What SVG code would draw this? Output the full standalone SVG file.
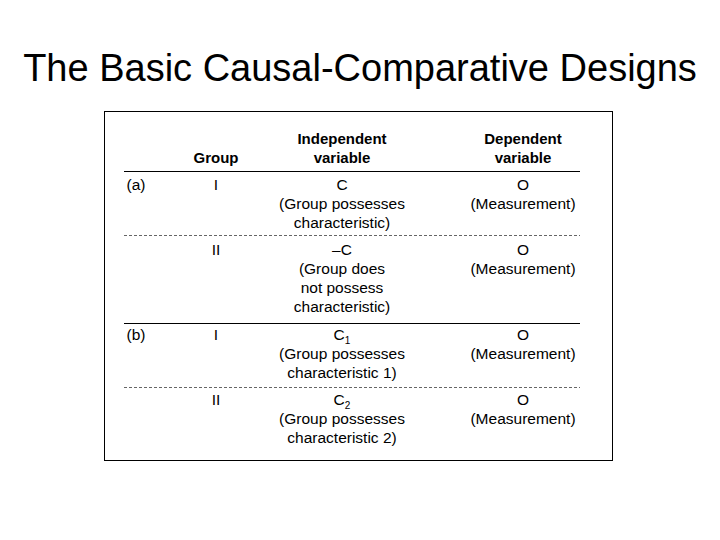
<svg xmlns="http://www.w3.org/2000/svg" width="720" height="540" viewBox="0 0 720 540">
<style>
text{font-family:"Liberation Sans",Arial,sans-serif;font-size:15.5px;fill:#000;text-anchor:middle}
.h{font-weight:bold;font-size:15px}
.solid{stroke:#000;stroke-width:1}
.dash{stroke:#666;stroke-width:1;stroke-dasharray:3,2}
</style>
<rect width="720" height="540" fill="#fff"/>
<text x="360" y="81" style="font-size:38px">The Basic Causal-Comparative Designs</text>
<rect x="104.5" y="111.5" width="508" height="349" fill="none" stroke="#000"/>
<g id="header">
<text class="h" x="216" y="163">Group</text>
<text class="h" x="342" y="144">Independent</text>
<text class="h" x="342" y="163">variable</text>
<text class="h" x="523" y="144">Dependent</text>
<text class="h" x="523" y="163">variable</text>
</g>
<g id="lines">
<line class="solid" x1="124" y1="171.5" x2="580" y2="171.5"/>
<line class="dash" x1="124" y1="235.5" x2="580" y2="235.5"/>
<line class="solid" x1="124" y1="323.5" x2="580" y2="323.5"/>
<line class="dash" x1="124" y1="387.5" x2="580" y2="387.5"/>
</g>
<g id="row-a1">
<text x="136" y="190">(a)</text>
<text x="216" y="190">I</text>
<text x="342" y="190">C</text>
<text x="342" y="209">(Group possesses</text>
<text x="342" y="228">characteristic)</text>
<text x="523" y="190">O</text>
<text x="523" y="209">(Measurement)</text>
</g>
<g id="row-a2">
<text x="216" y="255">II</text>
<text x="342" y="255">–C</text>
<text x="342" y="274">(Group does</text>
<text x="342" y="293">not possess</text>
<text x="342" y="312">characteristic)</text>
<text x="523" y="255">O</text>
<text x="523" y="274">(Measurement)</text>
</g>
<g id="row-b1">
<text x="136" y="340">(b)</text>
<text x="216" y="340">I</text>
<text x="342" y="340">C<tspan dy="4" style="font-size:10px">1</tspan></text>
<text x="342" y="359">(Group possesses</text>
<text x="342" y="378">characteristic 1)</text>
<text x="523" y="340">O</text>
<text x="523" y="359">(Measurement)</text>
</g>
<g id="row-b2">
<text x="216" y="405">II</text>
<text x="342" y="405">C<tspan dy="4" style="font-size:10px">2</tspan></text>
<text x="342" y="424">(Group possesses</text>
<text x="342" y="443">characteristic 2)</text>
<text x="523" y="405">O</text>
<text x="523" y="424">(Measurement)</text>
</g>
</svg>
